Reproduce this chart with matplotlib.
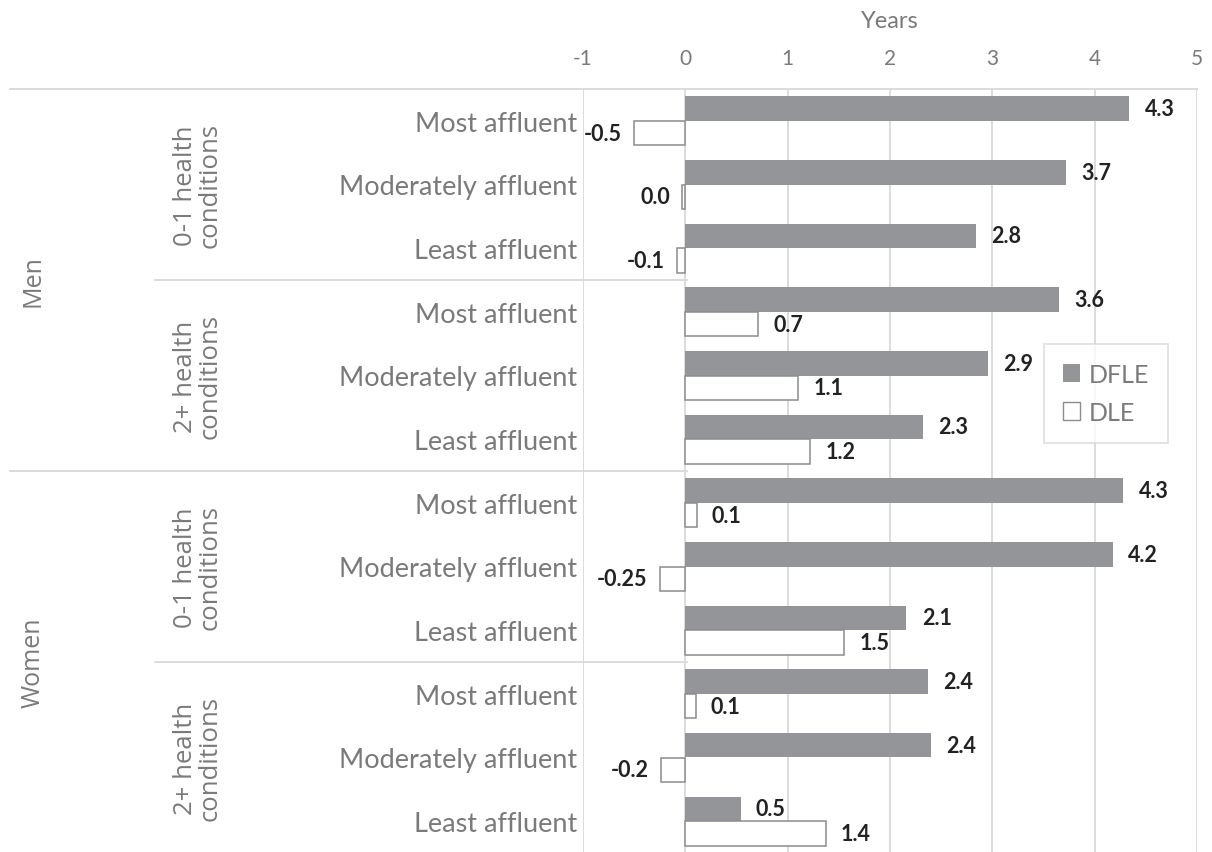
import matplotlib
matplotlib.use("Agg")
import matplotlib.pyplot as plt
from matplotlib.patches import Patch

# ---------------- data ----------------
sexes = ["Men", "Women"]
conditions = ["0-1 health\nconditions", "2+ health\nconditions"]
affluence = ["Most affluent", "Moderately affluent", "Least affluent"]

dfle = [4.34, 3.72, 2.84, 3.65, 2.96, 2.32, 4.28, 4.18, 2.16, 2.37, 2.40, 0.54]
dle = [-0.50, -0.03, -0.08, 0.71, 1.10, 1.22, 0.11, -0.25, 1.55, 0.10, -0.24, 1.37]
dfle_labels = ["4.3", "3.7", "2.8", "3.6", "2.9", "2.3", "4.3", "4.2", "2.1", "2.4", "2.4", "0.5"]
dle_labels = ["-0.5", "0.0", "-0.1", "0.7", "1.1", "1.2", "0.1", "-0.25", "1.5", "0.1", "-0.2", "1.4"]
xticks = [-1, 0, 1, 2, 3, 4, 5]

# ---------------- style ----------------
W, H = 1212, 853
DPI = 100
GRAY_TXT = "#7a7a7a"
GRID = "#d9d9d9"
BAR_FILL = "#939598"
DLE_EDGE = "#8c8c8c"
LABEL_CLR = "#222222"
FONT = "Lato"
FONT2 = "Open Sans"

fig = plt.figure(figsize=(W / DPI, H / DPI), dpi=DPI)
left_px, right_px, top_px, bottom_px = 583, 1197, 90, 854
ax = fig.add_axes([left_px / W, 1 - bottom_px / H, (right_px - left_px) / W, (bottom_px - top_px) / H])

n = len(dfle)
rows = [i + 0.5 for i in range(n)]
bh = 0.385

ax.barh([r - bh / 2 for r in rows], dfle, height=bh, color=BAR_FILL, edgecolor="none", zorder=3, label="DFLE")
ax.barh([r + bh / 2 for r in rows], dle, height=bh, color="white", edgecolor=DLE_EDGE, linewidth=1.1, zorder=3, label="DLE")

ax.set_xlim(-1, 5)
ax.set_ylim(n, 0)

for v in xticks:
    ax.axvline(v, color=GRID, lw=1.3, zorder=1)

for s in ax.spines.values():
    s.set_visible(False)

ax.xaxis.tick_top()
ax.set_xticks(xticks)
ax.set_xticklabels([str(v) for v in xticks], fontsize=15, color=GRAY_TXT, family=FONT)
ax.tick_params(axis="x", length=0, pad=15)
ax.xaxis.set_label_position("top")
ax.set_xlabel("Years", fontsize=17, color=GRAY_TXT, family=FONT, labelpad=15)

cat_labels = [affluence[i % 3] for i in range(n)]
ax.set_yticks(rows)
ax.set_yticklabels(cat_labels, fontsize=19.5, color=GRAY_TXT, family=FONT)
ax.tick_params(axis="y", length=0, pad=4)

LBL_FS = 15.5
# data labels
for r, v, lab in zip(rows, dfle, dfle_labels):
    ax.annotate(lab, xy=(v, r - bh / 2), xytext=(11, 0), textcoords="offset points",
                ha="left", va="center", fontsize=LBL_FS, fontweight="bold", color=LABEL_CLR, family=FONT, zorder=5)
for r, v, lab in zip(rows, dle, dle_labels):
    if v < 0:
        ax.annotate(lab, xy=(v, r + bh / 2), xytext=(-9, 0), textcoords="offset points",
                    ha="right", va="center", fontsize=LBL_FS, fontweight="bold", color=LABEL_CLR, family=FONT, zorder=5)
    else:
        ax.annotate(lab, xy=(v, r + bh / 2), xytext=(11, 0), textcoords="offset points",
                    ha="left", va="center", fontsize=LBL_FS, fontweight="bold", color=LABEL_CLR, family=FONT, zorder=5)

# separators of the multi-level category axis
tr = ax.get_yaxis_transform()
def ax_x(px):
    return (px - left_px) / (right_px - left_px)
zero_ax = ax_x(686.5)
ax.plot([ax_x(10), 1], [0, 0], transform=tr, color=GRID, lw=1.3, clip_on=False, zorder=1)
ax.plot([ax_x(10), zero_ax], [6, 6], transform=tr, color=GRID, lw=1.3, clip_on=False, zorder=1)
for yy in (3, 9):
    ax.plot([ax_x(155), zero_ax], [yy, yy], transform=tr, color=GRID, lw=1.3, clip_on=False, zorder=1)
ax.plot([ax_x(10), zero_ax], [12, 12], transform=tr, color=GRID, lw=1.3, clip_on=False, zorder=1)

# group labels
for gi, sx in enumerate(sexes):
    ax.text(ax_x(33), gi * 6 + 3, sx, transform=tr, rotation=90, ha="center", va="center",
            fontsize=18, color=GRAY_TXT, family=FONT2)
    for ci, cond in enumerate(conditions):
        ax.text(ax_x(198), gi * 6 + ci * 3 + 1.5, cond, transform=tr, rotation=90, ha="center", va="center",
                fontsize=18.5, color=GRAY_TXT, family=FONT2, linespacing=0.95, multialignment="center")

# legend
handles = [Patch(facecolor=BAR_FILL, edgecolor="none", label="DFLE"),
           Patch(facecolor="white", edgecolor=DLE_EDGE, linewidth=1.0, label="DLE")]
leg = fig.legend(handles=handles, loc="upper left", bbox_to_anchor=(1044 / W, 1 - 345 / H),
                 frameon=True, fancybox=False, prop={"family": FONT, "size": 18},
                 handlelength=0.7, handleheight=0.7, handletextpad=0.35, labelspacing=0.6,
                 borderpad=0.75, borderaxespad=0)
leg.get_frame().set_edgecolor(GRID)
leg.get_frame().set_linewidth(1.3)
for t in leg.get_texts():
    t.set_color(GRAY_TXT)

fig.savefig("out.png", dpi=DPI)
